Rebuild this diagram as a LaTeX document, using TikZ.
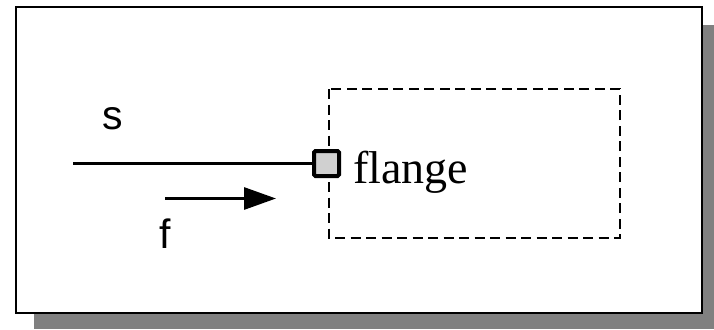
\documentclass[tikz,border=0pt]{standalone}
\usepackage{fontspec}
\setmainfont{Liberation Serif}
\newfontfamily\sansf{Liberation Sans}
\usetikzlibrary{arrows.meta}
\definecolor{shadowgray}{HTML}{808080}
\definecolor{portgray}{HTML}{D0D0D0}
\begin{document}
\begin{tikzpicture}[x=1pt,y=-1pt,
  frame/.style={draw=black,line width=2.6pt,fill=white},
  dashbox/.style={draw=black,line width=2.8pt,dash pattern=on 10pt off 5.5pt},
  port/.style={draw=black,line width=4pt,fill=portgray,minimum width=25pt,minimum height=25pt,inner sep=0pt,rounded corners=1.5pt},
  sanslbl/.style={font=\sansf\fontsize{41}{44}\selectfont,inner sep=0pt,anchor=base},
  seriflbl/.style={font=\fontsize{46}{50}\selectfont,inner sep=0pt,anchor=base west}]
\useasboundingbox (0,0) rectangle (714,329);
\fill[shadowgray] (34,25) rectangle (714,329);
\draw[frame] (16,7) rectangle (702,313);
\draw[dashbox] (329,89) rectangle (620,238);
\coordinate (sstart) at (73,163.5);
\node[port] (flport) at (326.5,163.5) {};
\draw[line width=3pt] (sstart) -- (flport.west);
\node[seriflbl] (fllbl) at (353,183) {flange};
\node[sanslbl] (slbl) at (112.5,129.5) {s};
\node[sanslbl] (flbl) at (165,248) {f};
\coordinate (fa) at (165,198.5);
\coordinate (fb) at (276,198.5);
\draw[line width=3pt,-{Triangle[length=32pt,width=22pt]}] (fa) -- (fb);
\end{tikzpicture}
\end{document}
